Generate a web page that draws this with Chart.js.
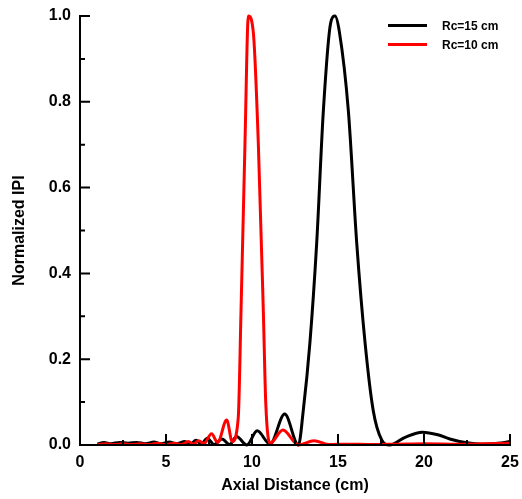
<!DOCTYPE html>
<html>
<head>
<meta charset="utf-8">
<script src="https://cdn.jsdelivr.net/npm/chart.js@4.4.1/dist/chart.umd.min.js"></script>
<style>
  html, body { margin: 0; padding: 0; background: #fff; }
  #wrap { width: 522px; height: 499px; }
</style>
</head>
<body>
<div id="wrap"><canvas id="c" width="522" height="499"></canvas></div>
<script>
// Axial profile of normalized IPI for two radii of curvature
const seriesLabels = ['Rc=15 cm', 'Rc=10 cm'];

const rc15Dist = [1.0, 1.4, 1.8, 2.3, 2.8, 3.3, 3.8, 4.3, 4.7, 5.2, 5.6, 6.1, 6.4, 6.75, 7.05, 7.4, 7.8, 8.25, 8.7, 9.1, 9.7, 10.3, 11.05, 11.9, 12.7, 12.98, 13.37, 13.76, 14.15, 14.57, 14.83, 15.08, 15.6, 16.09, 16.57, 17.05, 17.54, 18.0, 18.9, 19.9, 20.8, 21.5, 22.5, 23.4, 24.3, 25.0];
const rc15IPI  = [0.002, 0.006, 0.003, 0.006, 0.004, 0.006, 0.003, 0.007, 0.003, 0.007, 0.003, 0.008, 0.002, 0.011, 0.002, 0.016, 0.001, 0.014, 0.001, 0.020, 0.000, 0.033, 0.002, 0.072, 0.000, 0.080, 0.240, 0.470, 0.780, 0.983, 1.000, 0.963, 0.780, 0.470, 0.240, 0.080, 0.012, 0.000, 0.018, 0.030, 0.024, 0.014, 0.005, 0.002, 0.004, 0.008];

const rc10Dist = [1.0, 1.5, 2.0, 2.5, 3.0, 3.5, 4.0, 4.5, 5.0, 5.5, 5.9, 6.3, 6.6, 6.9, 7.2, 7.65, 8.0, 8.53, 8.85, 9.2, 9.36, 9.59, 9.79, 10.08, 10.37, 10.66, 10.8, 11.05, 11.8, 12.7, 13.6, 14.5, 15.5, 17.0, 18.5, 20.0, 22.0, 23.5, 25.0];
const rc10IPI  = [0.001, 0.003, 0.001, 0.003, 0.001, 0.003, 0.001, 0.004, 0.001, 0.004, 0.001, 0.008, 0.002, 0.010, 0.003, 0.026, 0.006, 0.058, 0.008, 0.063, 0.310, 0.700, 1.000, 0.960, 0.700, 0.310, 0.098, 0.004, 0.035, 0.000, 0.010, 0.001, 0.002, 0.001, 0.002, 0.003, 0.002, 0.003, 0.004];

const seriesColors = ['#000000', '#ff0000'];

const xMin = 0, xMax = 25, xMajor = 5, xMinor = 2.5;
const yMin = 0, yMax = 1, yMajor = 0.2, yMinor = 0.1;

const toPoints = (xs, ys) => xs.map((x, i) => ({ x: x, y: ys[i] }));

// Axis lines with inward major/minor ticks, plus the legend box
const frame = {
  id: 'frame',
  afterDatasetsDraw(chart) {
    const { ctx, scales: { x, y } } = chart;
    const left = x.getPixelForValue(xMin), right = x.getPixelForValue(xMax);
    const bottom = y.getPixelForValue(yMin), top = y.getPixelForValue(yMax);
    ctx.save();
    ctx.strokeStyle = '#000';
    ctx.lineWidth = 2;
    ctx.lineCap = 'butt';
    ctx.beginPath();
    ctx.moveTo(left, top - 1);
    ctx.lineTo(left, bottom);
    ctx.lineTo(right + 1, bottom);
    ctx.stroke();
    ctx.beginPath();
    for (let v = xMin; v <= xMax + 1e-9; v += xMinor) {
      const px = x.getPixelForValue(v);
      const major = Math.abs(v / xMajor - Math.round(v / xMajor)) < 1e-6;
      ctx.moveTo(px, bottom);
      ctx.lineTo(px, bottom - (major ? 11 : 5));
    }
    for (let v = yMin; v <= yMax + 1e-9; v += yMinor) {
      const py = y.getPixelForValue(v);
      const major = Math.abs(v / yMajor - Math.round(v / yMajor)) < 1e-6;
      ctx.moveTo(left, py);
      ctx.lineTo(left + (major ? 10 : 5), py);
    }
    ctx.stroke();
    ctx.restore();
  },
  afterDraw(chart) {
    const { ctx } = chart;
    ctx.save();
    ctx.font = 'bold 12px "Liberation Sans", Arial, sans-serif';
    ctx.textBaseline = 'middle';
    ctx.textAlign = 'left';
    const rows = [25.5, 44.5];
    chart.data.datasets.forEach((ds, i) => {
      const yy = rows[i];
      ctx.strokeStyle = ds.borderColor;
      ctx.lineWidth = 3;
      ctx.beginPath();
      ctx.moveTo(388, yy);
      ctx.lineTo(427, yy);
      ctx.stroke();
      ctx.fillStyle = '#000';
      ctx.fillText(ds.label, 442, yy + 1);
    });
    ctx.restore();
  }
};

new Chart(document.getElementById('c'), {
  type: 'line',
  data: {
    datasets: [
      {
        label: seriesLabels[0],
        data: toPoints(rc15Dist, rc15IPI),
        borderColor: seriesColors[0],
        borderWidth: 3,
        pointRadius: 0,
        cubicInterpolationMode: 'monotone',
        fill: false,
        order: 1
      },
      {
        label: seriesLabels[1],
        data: toPoints(rc10Dist, rc10IPI),
        borderColor: seriesColors[1],
        borderWidth: 3,
        pointRadius: 0,
        cubicInterpolationMode: 'monotone',
        fill: false,
        order: 0
      }
    ]
  },
  options: {
    responsive: false,
    animation: false,
    clip: false,
    layout: { padding: { top: 16, right: 12, left: 0, bottom: 0 } },
    plugins: { legend: { display: false }, tooltip: { enabled: false } },
    scales: {
      x: {
        type: 'linear',
        min: xMin, max: xMax,
        grid: { display: false, drawTicks: false },
        border: { display: false },
        ticks: {
          stepSize: xMajor,
          padding: 8,
          color: '#000',
          maxRotation: 0,
          font: { family: '"Liberation Sans", Arial, sans-serif', size: 16, weight: 'bold' },
          callback: v => String(v)
        },
        title: {
          display: true,
          text: 'Axial Distance (cm)',
          color: '#000',
          padding: { top: 0, bottom: 4 },
          font: { family: '"Liberation Sans", Arial, sans-serif', size: 16, weight: 'bold' }
        },
        afterFit: s => { s.height = 54; s.paddingLeft = 0; s.paddingRight = 0; }
      },
      y: {
        type: 'linear',
        min: yMin, max: yMax,
        grid: { display: false, drawTicks: false },
        border: { display: false },
        ticks: {
          stepSize: yMajor,
          padding: 9,
          color: '#000',
          font: { family: '"Liberation Sans", Arial, sans-serif', size: 16, weight: 'bold' },
          callback: v => Number(v).toFixed(1)
        },
        title: {
          display: true,
          text: 'Normalized IPI',
          color: '#000',
          padding: { top: 10, bottom: 0 },
          font: { family: '"Liberation Sans", Arial, sans-serif', size: 16, weight: 'bold' }
        },
        afterFit: s => { s.width = 80; s.paddingTop = 0; s.paddingBottom = 0; }
      }
    }
  },
  plugins: [frame]
});
</script>
</body>
</html>
